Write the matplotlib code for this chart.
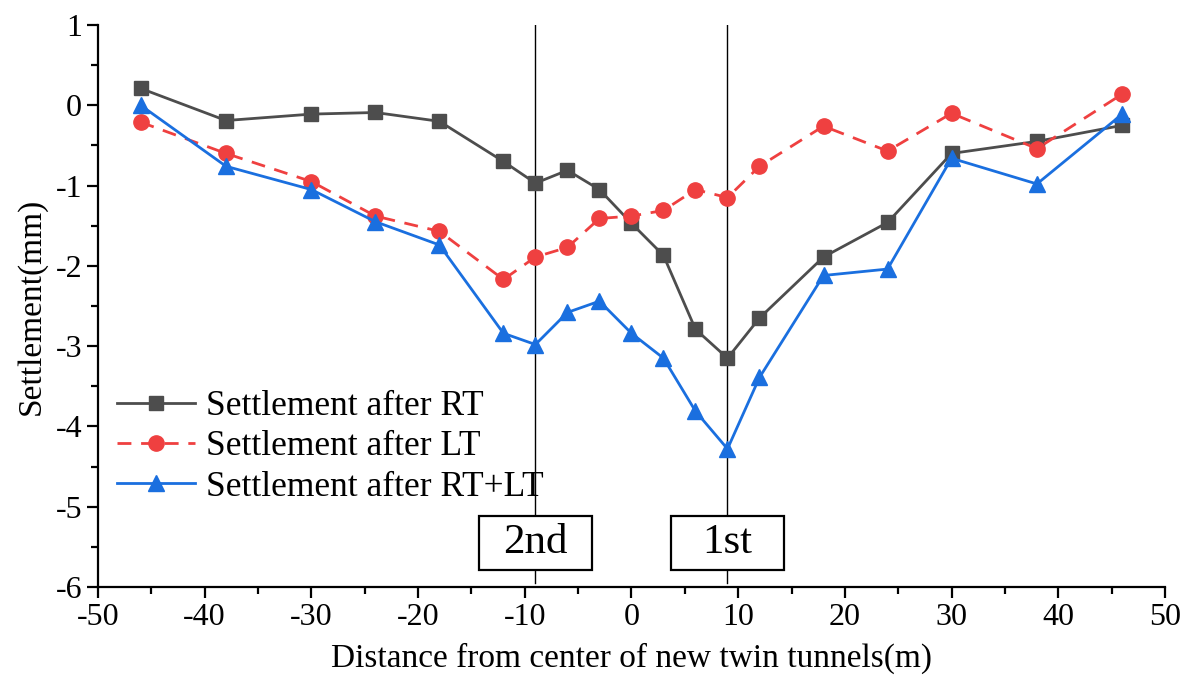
import numpy as np
import matplotlib
matplotlib.use('Agg')
import matplotlib.pyplot as plt
from matplotlib.patches import Rectangle

plt.rcParams['font.family'] = ['Liberation Serif', 'DejaVu Serif']
plt.rcParams['axes.unicode_minus'] = False

# distance from center of the new twin tunnels (m)
distance = [-46, -38, -30, -24, -18, -12, -9, -6, -3, 0, 3, 6, 9, 12, 18, 24, 30, 38, 46]

# settlement (mm)
settle_rt = [0.21, -0.19, -0.11, -0.09, -0.20, -0.70, -0.97, -0.81, -1.05, -1.47,
             -1.87, -2.79, -3.15, -2.65, -1.89, -1.46, -0.60, -0.45, -0.25]
settle_lt = [-0.21, -0.60, -0.95, -1.38, -1.57, -2.17, -1.89, -1.77, -1.41, -1.38,
             -1.31, -1.05, -1.15, -0.76, -0.26, -0.57, -0.10, -0.54, 0.14]
settle_both = [0.00, -0.76, -1.05, -1.45, -1.74, -2.84, -2.98, -2.58, -2.44, -2.84,
               -3.15, -3.81, -4.28, -3.39, -2.12, -2.04, -0.66, -0.98, -0.11]

tunnel_x = [-9, 9]
tunnel_labels = ['2nd', '1st']

fig = plt.figure(figsize=(11.92, 6.79), dpi=100)
ax = fig.add_axes([0.0822, 0.1355, 0.8951, 0.8277])

ax.plot(distance, settle_rt, color='#4d4d4d', lw=2.0, marker='s', ms=10,
        label='Settlement after RT', zorder=3)
ax.plot(distance, settle_lt, color='#ef4040', lw=2.0, ls=(0, (5, 3.5)), marker='o', ms=11,
        label='Settlement after LT', zorder=3)
ax.plot(distance, settle_both, color='#1a6fdf', lw=2.0, marker='^', ms=11,
        label='Settlement after RT+LT', zorder=3)

# tunnel centre lines and labels
for tx, lab in zip(tunnel_x, tunnel_labels):
    ax.plot([tx, tx], [1, -5.95], color='black', lw=1.0, zorder=2)
    ax.add_patch(Rectangle((tx - 5.3, -5.79), 10.6, 0.67, facecolor='white',
                           edgecolor='black', lw=1.6, zorder=4))
    ax.text(tx, -5.45, lab, ha='center', va='center', fontsize=31, zorder=5)

ax.set_xlim(-50, 50)
ax.set_ylim(-6, 1)
ax.set_xticks(np.arange(-50, 51, 10))
ax.set_yticks(np.arange(-6, 1.1, 1))
ax.set_xticks(np.arange(-45, 50, 10), minor=True)
ax.set_yticks(np.arange(-5.5, 1, 1), minor=True)
ax.tick_params(which='major', direction='out', length=8, width=1.6, labelsize=23)
ax.tick_params(which='minor', direction='out', length=5, width=1.6)

ax.spines['top'].set_visible(False)
ax.spines['right'].set_visible(False)
ax.spines['left'].set_linewidth(1.6)
ax.spines['bottom'].set_linewidth(1.6)

ax.set_xlabel('Distance from center of new twin tunnels(m)', fontsize=24, labelpad=8)
ax.set_ylabel('Settlement(mm)', fontsize=24, labelpad=6)

ax.legend(loc='upper left', bbox_to_anchor=(0.005, 0.375), frameon=False, fontsize=25.5,
          handlelength=2.2, handletextpad=0.3, labelspacing=0.2, borderaxespad=0.0)

fig.savefig('out.png', dpi=100)
